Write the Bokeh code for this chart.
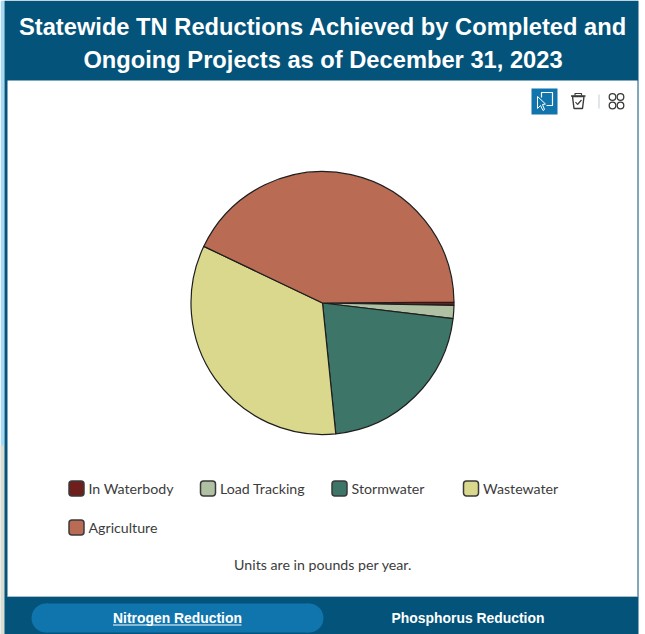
import math
from bokeh.plotting import figure
from bokeh.models import Range1d, ColumnDataSource, BoxAnnotation
from bokeh.core.properties import value
from bokeh.embed import file_html
from bokeh.resources import INLINE

# ---- data (share of total, percent) ----
categories = ["In Waterbody", "Load Tracking", "Stormwater", "Wastewater", "Agriculture"]
shares = [0.4, 1.6, 21.5, 33.7, 42.8]
colors = ["#6E1F1B", "#B0C1A3", "#3D7669", "#D9D88C", "#B96B53"]
title_lines = ["Statewide TN Reductions Achieved by Completed and",
               "Ongoing Projects as of December 31, 2023"]
note = "Units are in pounds per year."
tabs = ["Nitrogen Reduction", "Phosphorus Reduction"]

W, H = 645, 634
DARK = "#03537A"
p = figure(width=W, height=H, x_range=Range1d(0, W), y_range=Range1d(H, 0),
           output_backend="svg", toolbar_location=None, min_border=0,
           background_fill_color="white", border_fill_color="white",
           outline_line_color=None, margin=(0, 0, 0, 0))
p.xaxis.visible = False
p.yaxis.visible = False
p.grid.visible = False

# page frame
p.quad(left=[0], right=[4], top=[0], bottom=[H], color="#A9D8F3", line_color=None)
p.quad(left=[0], right=[4], top=[445], bottom=[H], color="#D9DCCF", line_color=None)
p.quad(left=[4], right=[638], top=[0], bottom=[H], color=DARK, line_color=None)
p.quad(left=[7], right=[637], top=[80], bottom=[596], color="white", line_color=None)
p.line([7, 637], [596, 596], line_color="#A9BFCB", line_width=1)

# title
for ty, t in zip([26, 59], title_lines):
    p.text([322.5], [ty], text=[t], text_color="white", text_align="center", text_baseline="middle",
           text_font=value("Liberation Sans"), text_font_style="bold", text_font_size="23.7px")

# toolbar icons
p.quad(left=[531], right=[557], top=[88], bottom=[114], color="#1175AD", line_color=None)
p.line([541, 541, 552, 552, 546], [97, 92, 92, 105, 105], line_color="white", line_width=1.2)
p.patch([537, 537, 540, 542.5, 544, 542, 545], [96, 108, 105, 110, 109, 104, 103.5],
        fill_color="#1175AD", line_color="white", line_width=1)
ic = "#3A3A3A"
p.patch([572, 573.5, 582, 583.5], [96, 108, 108, 96], fill_color=None, line_color=ic, line_width=1.4)
p.line([570.5, 585], [95.5, 95.5], line_color=ic, line_width=1.4)
p.line([574.5, 574.5, 581, 581], [95, 93, 93, 95], line_color=ic, line_width=1.2)
p.line([575, 577, 581], [101.5, 104, 99.5], line_color=ic, line_width=1.2)
p.line([598.5, 598.5], [94, 108], line_color="#CBD5DC", line_width=1.2)
p.circle([612, 620, 612, 620], [96.5, 96.5, 105, 105], radius=3.3, radius_units="screen",
         fill_color=None, line_color=ic, line_width=1.3)

# pie
total = sum(shares)
start = math.radians(0.4)
starts, ends = [], []
for s in shares:
    e = start - 2 * math.pi * s / total
    starts.append(e)
    ends.append(start)
    start = e
src = ColumnDataSource(dict(start=starts, end=ends, color=colors, name=categories))
p.wedge(x=322, y=302.5, radius=131.5, radius_units="screen", start_angle="start", end_angle="end",
        fill_color="color", line_color="#1E1E1E", line_width=1.2, source=src)

# legend
leg_x = [76, 207.5, 339, 470.5, 76]
leg_y = [488, 488, 488, 488, 527]
for x, y, c, t in zip(leg_x, leg_y, colors, categories):
    p.add_layout(BoxAnnotation(left=x - 7.5, right=x + 7.5, top=y - 7.5, bottom=y + 7.5, fill_color=c, fill_alpha=1,
                               line_color="#3A3A3A", line_alpha=1, line_width=1.5, border_radius=3))
    p.text([x + 12], [y], text=[t], text_color="#3C3C3C", text_baseline="middle",
           text_font=value("Lato"), text_font_size="14.2px")

p.text([322.5], [564], text=[note], text_color="#3C3C3C", text_align="center", text_baseline="middle",
       text_font=value("Lato"), text_font_size="14.2px")

# bottom tabs
p.quad(left=[45.5], right=[308.5], top=[603], bottom=[632], color="#1175AD", line_color=None)
p.circle([45.5, 308.5], [617.5, 617.5], radius=14.5, radius_units="screen", color="#1175AD", line_color=None)
for tx, t in zip([177, 467.5], tabs):
    p.text([tx], [617.5], text=[t], text_color="white", text_align="center", text_baseline="middle",
           text_font=value("Liberation Sans"), text_font_style="bold", text_font_size="13.9px")
p.line([112.5, 241], [624.5, 624.5], line_color="white", line_width=1)

open("out.html", "w").write(file_html(p, INLINE))
